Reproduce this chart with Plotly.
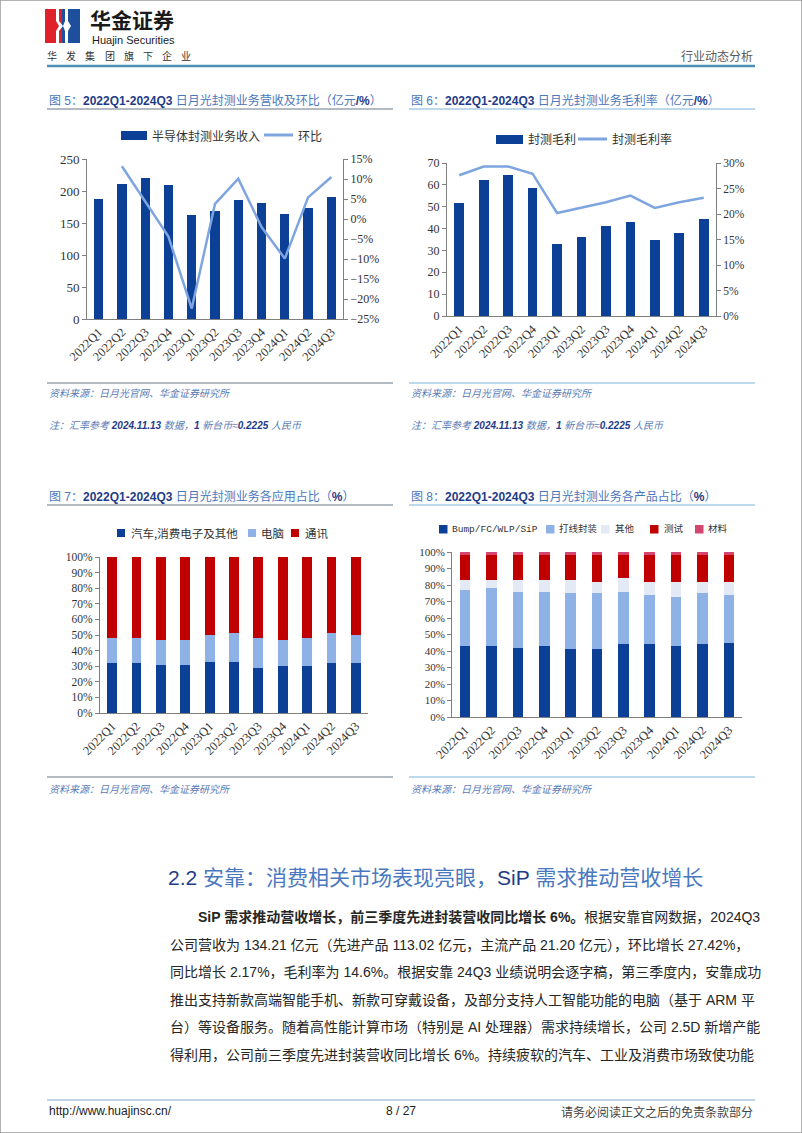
import plotly.graph_objects as go

# page size in px
W, H = 802, 1133


def fx(x):
    return x / W


def fy(y):
    return 1 - y / H


# ---- data ----
quarters = ["2022Q1", "2022Q2", "2022Q3", "2022Q4", "2023Q1", "2023Q2",
            "2023Q3", "2023Q4", "2024Q1", "2024Q2", "2024Q3"]

# 图5 营收（亿元）及环比（%）
revenue = [187, 211, 220, 210, 163, 169, 186, 182, 164, 173, 191]
revenue_qoq = [None, 13.2, 4.3, -4.4, -22.4, 3.8, 10.1, -2.0, -9.9, 5.4, 10.5]

# 图6 毛利（亿元）及毛利率（%）
gross_profit = [51.5, 62.1, 64.4, 58.4, 32.9, 36.1, 41.4, 43.0, 34.7, 38.2, 44.2]
gross_margin = [27.6, 29.3, 29.3, 27.9, 20.2, 21.3, 22.3, 23.6, 21.2, 22.3, 23.2]

# 图7 应用占比（%）
app_names = ["汽车,消费电子及其他", "电脑", "通讯"]
app_auto = [32, 32, 31, 31, 33, 33, 29, 30, 30, 32, 32]
app_pc = [16, 16, 16, 16, 17, 18, 19, 17, 18, 19, 18]
app_comm = [52, 52, 53, 53, 50, 49, 52, 53, 52, 49, 50]

# 图8 产品占比（%）
prod_names = ["Bump/FC/WLP/SiP", "打线封装", "其他", "测试", "材料"]
prod_bump = [43, 43, 42, 43, 41, 41, 44, 44, 43, 44, 45]
prod_wire = [34, 35, 34, 33, 34, 34, 32, 30, 30, 31, 29]
prod_other = [6, 5, 7, 7, 8, 7, 8, 8, 9, 7, 8]
prod_test = [15, 15, 15, 15, 15, 16, 14, 16, 16, 16, 16]
prod_material = [2, 2, 2, 2, 2, 2, 2, 2, 2, 2, 2]

# ---- colours ----
DARK = "#0c3f96"
LIGHT = "#8fb2e6"
LINE = "#7ea5e0"
RED = "#c00000"
PINK = "#d4456f"
PALE = "#e3eaf6"
NAVY = "#1f3c88"
TBLUE = "#4a78bd"
SRC = "#5a7bb5"
AXIS = "#808080"
SERIF = "Liberation Serif, Noto Sans CJK SC"
SANS = "Liberation Sans, Noto Sans CJK SC"
CJK = "Noto Sans CJK SC"

fig = go.Figure()

# chart 5
fig.add_trace(go.Bar(x=quarters, y=revenue, name="半导体封测业务收入", marker_color=DARK,
                     xaxis="x", yaxis="y"))
fig.add_trace(go.Scatter(x=quarters, y=revenue_qoq, name="环比", mode="lines",
                         line=dict(color=LINE, width=2.5), xaxis="x", yaxis="y2"))

# chart 6
fig.add_trace(go.Bar(x=quarters, y=gross_profit, name="封测毛利", marker_color=DARK,
                     xaxis="x2", yaxis="y3"))
fig.add_trace(go.Scatter(x=quarters, y=gross_margin, name="封测毛利率", mode="lines",
                         line=dict(color=LINE, width=2.5), xaxis="x2", yaxis="y4"))

# chart 7
app_colors = [DARK, LIGHT, RED]
for name, vals, col in zip(app_names, [app_auto, app_pc, app_comm], app_colors):
    fig.add_trace(go.Bar(x=quarters, y=vals, name=name, marker_color=col,
                         xaxis="x3", yaxis="y5"))

# chart 8
prod_colors = [DARK, LIGHT, PALE, RED, PINK]
for name, vals, col in zip(prod_names, [prod_bump, prod_wire, prod_other, prod_test, prod_material],
                           prod_colors):
    fig.add_trace(go.Bar(x=quarters, y=vals, name=name, marker_color=col,
                         xaxis="x4", yaxis="y6"))

common = dict(showline=True, linecolor=AXIS, linewidth=1, showgrid=False, zeroline=False,
              automargin=False)
xcommon = dict(common, type="category", ticks="", tickangle=-45,
               tickfont=dict(family=SERIF, size=12.5, color="#333333"))


def yax(size, **kw):
    return dict(common, ticks="outside", ticklen=4, tickcolor=AXIS,
                tickfont=dict(family=SERIF, size=size, color="#333333"), **kw)


fig.update_layout(
    width=W, height=H, autosize=False, template="none", showlegend=False,
    margin=dict(l=0, r=0, t=0, b=0),
    paper_bgcolor="white", plot_bgcolor="white",
    font=dict(family=SANS, color="#333333"),
    barmode="stack", bargap=0.6,
    xaxis=dict(xcommon, domain=[fx(87), fx(343)], anchor="y"),
    yaxis=yax(13, domain=[fy(319), fy(159)], anchor="x", range=[0, 250], dtick=50),
    yaxis2=yax(12, overlaying="y", side="right", anchor="x", range=[-25, 15], dtick=5,
               ticksuffix="%"),
    xaxis2=dict(xcommon, domain=[fx(447), fx(716)], anchor="y3"),
    yaxis3=yax(12, domain=[fy(316), fy(163)], anchor="x2", range=[0, 70], dtick=10),
    yaxis4=yax(11.5, overlaying="y3", side="right", anchor="x2", range=[0, 30], dtick=5,
               ticksuffix="%"),
    xaxis3=dict(xcommon, domain=[fx(100), fx(368)], anchor="y5"),
    yaxis5=yax(11.5, domain=[fy(713), fy(557)], anchor="x3", range=[0, 100], dtick=10,
               ticksuffix="%"),
    xaxis4=dict(xcommon, domain=[fx(452), fx(742)], anchor="y6"),
    yaxis6=yax(11, domain=[fy(717), fy(552)], anchor="x4", range=[0, 100], dtick=10,
               ticksuffix="%"),
)

shapes = []
annotations = []


def hline(x0, x1, y, color, width=1):
    shapes.append(dict(type="line", xref="paper", yref="paper", x0=fx(x0), x1=fx(x1),
                       y0=fy(y), y1=fy(y), line=dict(color=color, width=width)))


def box(x0, x1, y0, y1, color):
    shapes.append(dict(type="rect", xref="paper", yref="paper", x0=fx(x0), x1=fx(x1),
                       y0=fy(y1), y1=fy(y0), fillcolor=color, line=dict(width=0)))


def text(x, y, s, size, color="#333333", anchor="left", family=SANS):
    annotations.append(dict(x=fx(x), y=fy(y), xref="paper", yref="paper", text=s,
                            showarrow=False, xanchor=anchor, yanchor="middle",
                            font=dict(size=size, color=color, family=family)))


def lt(s):
    return f'<span style="color:{TBLUE}">{s}</span>'


# page border
shapes.append(dict(type="rect", xref="paper", yref="paper", x0=0, x1=1, y0=0, y1=1,
                   line=dict(color="#9a9a9a", width=1.5)))

# header: logo
box(45, 62, 9, 43, "#e0202b")
box(62, 80, 9, 43, "#1d4f9c")
for pts in ([(56, 9), (59, 9), (59, 21), (63, 26), (59, 31), (59, 43), (56, 43), (56, 31),
             (59, 26), (56, 21)],
            [(65, 9), (68, 9), (68, 21), (71, 26), (68, 31), (68, 43), (65, 43), (65, 31),
             (63, 26), (65, 21)]):
    path = "M " + " L ".join(f"{fx(a)},{fy(b)}" for a, b in pts) + " Z"
    shapes.append(dict(type="path", xref="paper", yref="paper", path=path, fillcolor="white",
                       line=dict(width=0)))

text(88, 19, "<b>华金证券</b>", 21, "#1a1a1a", family=CJK)
text(90, 40, "Huajin Securities", 11, "#1a1a1a")
for i, ch in enumerate("华发集团旗下企业"):
    text(52 + i * 19.2, 56, ch, 10, "#333333", anchor="center", family=CJK)
text(755, 56, "行业动态分析", 12, "#595959", anchor="right", family=CJK)
hline(47, 755, 66, "#4b8fb4", 2.5)

# chart titles
text(47, 100, f'{lt("图 5：")}<b>2022Q1-2024Q3</b> {lt("日月光封测业务营收及环比（亿元")}<b>/%</b>{lt("）")}',
     12, NAVY)
text(409, 100, f'{lt("图 6：")}<b>2022Q1-2024Q3</b> {lt("日月光封测业务毛利率（亿元")}<b>/%</b>{lt("）")}',
     12, NAVY)
text(47, 496, f'{lt("图 7：")}<b>2022Q1-2024Q3</b> {lt("日月光封测业务各应用占比（")}<b>%</b>{lt("）")}',
     12, NAVY)
text(409, 496, f'{lt("图 8：")}<b>2022Q1-2024Q3</b> {lt("日月光封测业务各产品占比（")}<b>%</b>{lt("）")}',
     12, NAVY)
hline(47, 393, 109, "#9aa3ae", 1.5)
hline(409, 755, 109, "#a9cbe6", 1.5)
hline(47, 393, 505, "#9aa3ae", 1.5)
hline(409, 755, 505, "#a9cbe6", 1.5)

# legends (drawn by hand to keep the compact look of the original)
box(121, 147, 131, 140, DARK)
text(150, 135, "半导体封测业务收入", 12, "#333333", family=CJK)
hline(264, 293, 135, LINE, 3)
text(296, 135, "环比", 12, "#333333", family=CJK)

box(496, 523, 135, 144, DARK)
text(526, 139, "封测毛利", 12, "#333333", family=CJK)
hline(578, 607, 139, LINE, 3)
text(610, 139, "封测毛利率", 12, "#333333", family=CJK)

for (x0, tx), name, col in zip([(117, 129), (248, 259), (291, 303)], app_names, app_colors):
    box(x0, x0 + 8, 529, 537, col)
    text(tx, 533, name, 11.5, "#333333", family=CJK)

for (x0, tx), name, col in zip([(439, 450), (546, 557), (601, 613), (650, 662), (695, 706)],
                               prod_names, prod_colors):
    box(x0, x0 + 8.5, 525, 533.5, col)
    text(tx, 529, name, 9.5, "#333333", family="Liberation Mono, Noto Sans CJK SC")

# sources and notes
src = "<i>资料来源：日月光官网、华金证券研究所</i>"
note = (f'<i><span style="color:{SRC}">注：汇率参考 </span><b>2024.11.13</b>'
        f'<span style="color:{SRC}"> 数据，</span><b>1</b><span style="color:{SRC}"> 新台币≈</span>'
        f'<b>0.2225</b><span style="color:{SRC}"> 人民币</span></i>')
hline(47, 393, 383, "#9aa3ae", 1.5)
hline(409, 755, 383, "#a9cbe6", 1.5)
text(47, 393, src, 10, SRC)
text(409, 393, src, 10, SRC)
text(47, 425, note, 10, NAVY)
text(409, 425, note, 10, NAVY)
hline(47, 393, 777, "#9aa3ae", 1.5)
hline(409, 755, 777, "#a9cbe6", 1.5)
text(47, 789, src, 10, SRC)
text(409, 789, src, 10, SRC)

# section heading
text(166, 877, f'<span style="color:{NAVY}">2.2</span> 安靠：消费相关市场表现亮眼，'
               f'<span style="color:{NAVY}">SiP</span> 需求推动营收增长', 21, "#4a78c0")

# body text
body = [
    (196, "<b>SiP 需求推动营收增长，前三季度先进封装营收同比增长 6%。</b>根据安靠官网数据，2024Q3"),
    (168, "公司营收为 134.21 亿元（先进产品 113.02 亿元，主流产品 21.20 亿元），环比增长 27.42%，"),
    (168, "同比增长 2.17%，毛利率为 14.6%。根据安靠 24Q3 业绩说明会逐字稿，第三季度内，安靠成功"),
    (168, "推出支持新款高端智能手机、新款可穿戴设备，及部分支持人工智能功能的电脑（基于 ARM 平"),
    (168, "台）等设备服务。随着高性能计算市场（特别是 AI 处理器）需求持续增长，公司 2.5D 新增产能"),
    (168, "得利用，公司前三季度先进封装营收同比增长 6%。持续疲软的汽车、工业及消费市场致使功能"),
]
for i, (x0, s) in enumerate(body):
    text(x0, 917 + i * 27.6, s, 14, "#262626")

# footer
hline(47, 755, 1100, "#7fa8cf", 1)
text(47, 1111, "http://www.huajinsc.cn/", 12, "#222222")
text(401, 1111, "8 / 27", 12, "#222222", anchor="center")
text(755, 1111, "请务必阅读正文之后的免责条款部分", 12, "#444444", anchor="right", family=CJK)

fig.update_layout(shapes=shapes, annotations=annotations)

# page body margin off so the figure sits at the window origin; no modebar
fig.write_html("out.html", config={"displayModeBar": False},
               post_script="document.body.style.margin='0';")
